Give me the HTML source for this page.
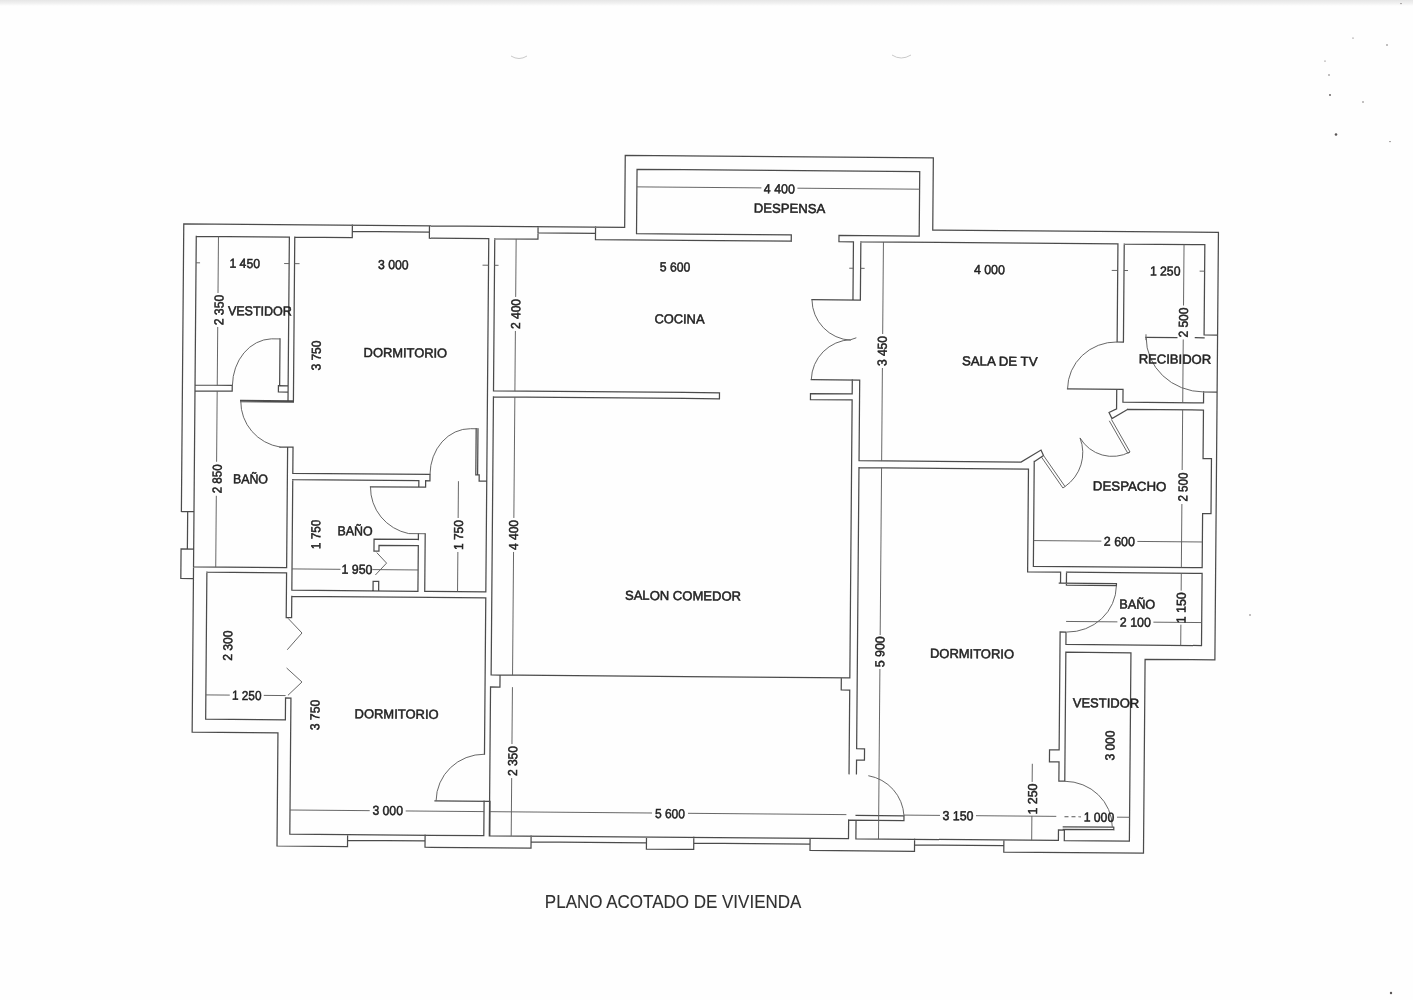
<!DOCTYPE html>
<html lang="es"><head><meta charset="utf-8"><title>Plano acotado de vivienda</title>
<style>
html,body{margin:0;padding:0;background:#fefefe;}
body{width:1413px;height:1000px;overflow:hidden;position:relative;}
svg{position:absolute;left:0;top:0;display:block;}
text{font-family:"Liberation Sans",sans-serif;fill:#222;stroke:#222;stroke-width:0.5;text-anchor:middle;}
.w{fill:none;stroke:#4c4c4c;stroke-width:1.25;stroke-linecap:square;stroke-linejoin:miter;}
.t{fill:none;stroke:#606060;stroke-width:0.95;stroke-linecap:butt;}
.d{fill:none;stroke:#555;stroke-width:1;stroke-dasharray:4 3;}
</style></head><body>
<svg width="1413" height="1000" viewBox="0 0 1413 1000">
<rect x="0" y="0" width="1413" height="1000" fill="#fefefe"/>
<defs><linearGradient id="tg" x1="0" y1="0" x2="0" y2="1"><stop offset="0" stop-color="#e6e6e6"/><stop offset="0.5" stop-color="#f0f0f0"/><stop offset="1" stop-color="#fefefe"/></linearGradient></defs><rect x="0" y="0" width="1413" height="6" fill="url(#tg)"/>
<defs><filter id="sc" x="0" y="0" width="1413" height="1000" filterUnits="userSpaceOnUse"><feGaussianBlur stdDeviation="0.38"/></filter></defs>
<g filter="url(#sc)"><g transform="rotate(0.4756 700 500)">
<path class="w" d="M181.5,515.8L181.5,228.1L622.4,228.1L622.4,155.9L930.5,155.9L930.5,228.1L1216.2,228.1L1216.2,655.6L1146.4,655.6L1146.4,849.5L1006.7,849.5 M1006.7,837.5V849.5 M917.4,843.2H1006.7 M917.4,837.5V849.5 M812.9,849.5H917.4 M812.9,837.5V849.5 M696.6,843.2H812.9 M696.6,837.5V849.5 M649.3,849.5H696.6 M649.3,837.5V849.5 M533.9,843.2H649.3 M533.9,837.5V849.5 M427.9,849.5H533.9 M427.9,837.5V849.5 M350.4,843.2H427.9 M350.4,837.5V849.5 M350.4,849.5L279.9,849.5L279.9,736.4L194.1,736.4 M181.5,515.8H194.1 M187.8,515.8V553.3 M194.1,553.3L181.5,553.3L181.5,582.8L194.1,582.8 M194.1,240.5V736.4 M194.1,240.5H287.2 M292.6,240.5H350.1 M350.1,228.1V240.5 M350.1,234.3H427.2 M427.2,228.1V240.5 M427.2,240.5H486.6 M492.6,240.5H535.8 M535.8,228.1V240.5 M535.8,234.3H593.3 M593.3,228.1V240.5 M593.3,240.5H789.1 M789.1,234.2V240.5 M789.1,234.2L634.3,234.2L634.3,169.8L917.0,169.8L917.0,234.2L836.8,234.2L836.8,240.5L851.3,240.5 M858.7,240.5H1115.8 M1122.1,240.5H1202.7 M287.2,240.5V389.2 M292.6,240.5V404.3 M194.1,389.2L231.3,389.2L231.3,395.0L194.1,395.0 M287.2,389.2L277.5,389.2L277.5,395.5L287.2,395.5 M287.2,389.2V404.3 M278.7,342.4V389.2 M239.8,404.3H292.6 M239.8,405.4H292.6 M279.5,450.6H292.6 M287.2,450.6V571.1 M287.2,576.3V621.0 M292.6,450.6V476.7 M292.6,483.0V593.6 M292.6,599.7V621.0 M287.2,621.0H292.6 M194.1,571.1H287.2 M207.5,576.3H287.2 M207.5,576.3L207.5,723.3L287.2,723.3L287.2,701.4L292.6,701.4L292.6,837.5 M486.6,240.5V593.6 M486.6,599.7V756.0 M486.6,803.0V837.5 M492.6,240.5V392.6 M492.6,398.6V676.7 M492.6,676.7L501.5,676.7L501.5,688.7L492.1,688.7L492.1,837.5 M292.6,476.7H429.8 M292.6,483.0H418.7 M475.6,430.6V476.8 M477.4,430.6V476.8 M475.6,476.8L479.0,476.8L479.0,483.0L486.6,483.0 M418.7,483.0L418.7,489.5 M429.8,476.7L429.8,483.0L425.5,483.0L425.5,489.5 M370.4,489.5H425.5 M418.7,536.2V542.0 M418.7,548.0V593.6 M425.5,536.2V593.6 M418.7,541.8L374.4,541.8L374.4,553.9L379.4,553.9L379.4,548.0L418.7,548.0 M373.8,593.6L373.8,584.0L379.4,584.0L379.4,593.6 M292.6,593.6H418.7 M425.5,593.6H486.6 M292.6,599.7H486.6 M437.5,803.0H492.6 M292.6,837.5H486.6 M492.6,803.0V837.5 M492.1,837.5H851.3 M492.6,392.6L718.6,392.6L718.6,398.6L492.6,398.6 M851.3,392.6L809.6,392.6L809.6,398.6L851.3,398.6 M851.3,240.5V298.7 M858.7,240.5V298.7 M810.3,298.7H858.7 M810.3,378.7H858.7 M851.3,378.7V392.6 M851.3,398.6V676.7 M858.7,378.7V459.4 M858.7,466.3V747.4 M858.7,758.7V772.5 M492.6,676.7H851.3 M842.8,676.7L842.8,688.8L851.3,688.8L851.3,772.5 M858.7,747.4L866.6,747.4L866.6,758.7L858.7,758.7 M851.3,819.0V837.5 M858.7,819.0V837.5 M858.7,814.1H906.6 M851.3,818.8H906.6 M906.6,814.1V818.8 M858.7,837.5H1061.2 M858.7,459.4L1020.7,459.4L1040.6,447.2L1043.1,452.6L1034.2,458.7 M1033.9,458.6V563.5 M858.7,466.3L1028.2,466.3L1028.2,569.2L1061.2,569.2 M1115.7,405.5L1108.3,409.1L1111.3,415.1L1126.7,406.0 M1115.8,240.5V338.5 M1122.1,240.5V338.5 M1115.8,338.5H1122.1 M1066.6,385.9H1122.1 M1115.8,385.9V405.5 M1122.1,385.9V398.7 M1122.1,398.7H1202.7 M1202.7,387.8V398.7 M1202.7,387.8H1216.2 M1202.7,240.5V330.8 M1202.7,330.8H1216.2 M1144.6,333.6H1175.5 M1194.0,333.6H1202.7 M1126.8,405.9H1202.7 M1202.7,405.9V454.5 M1202.7,454.5L1211.1,454.5L1211.1,509.5L1202.7,509.5 M1202.7,509.5V563.5 M1033.9,563.5H1202.7 M1067.1,569.2H1202.7 M1202.7,569.2V641.4 M1067.1,641.4H1202.7 M1061.2,569.2V580.1 M1067.1,569.2V582.2 M1060.0,580.1H1117.1 M1067.1,582.2H1117.1 M1117.1,580.1V582.2 M1067.1,641.4L1067.1,629.0L1061.2,629.0L1061.2,747.0L1051.6,747.0L1051.6,759.0L1061.2,759.0L1061.2,778.2L1067.1,778.2 M1067.1,778.2L1067.1,649.2L1132.2,649.2L1132.2,837.5L1067.1,837.5 M1061.2,837.5L1061.2,827.0L1067.1,827.0L1067.1,837.5 M1066.0,823.8H1116.5 M1066.0,826.3H1116.5 M1116.5,823.8V826.3"/>
<path class="t" d="M278.7,342.4H270 A 40 47 0 0 0 231.5,389.2 M240.0,405.0 A 47 46 0 0 0 280.0,450.6 M289.0,621.7L303.1,636.3L288.5,653.2 M288.0,671.4L303.5,685.3L289.6,698.7 M475.6,430.6 H470 A 40 46 0 0 0 429.8,476.7 M370.4,489.5 A 48 47 0 0 0 409.0,536.0 H425.5 M377.2,555.3L387.1,565.7L376.0,577.7 M438.6,803.0 A 48 47 0 0 1 486.6,756.0 M810.3,298.7 A 41 41 0 0 0 849.5,339.0 M810.3,378.7 A 41 41 0 0 1 849.5,338.4 L855,336.5 M906.6,814.1 A 43 43 0 0 0 870.6,774.3 M1043.1,452.6L1064.9,483.5L1062.8,485.0L1041.0,454.1 M1110.8,416.1L1129.6,448.4L1127.4,449.7L1108.6,417.4 M1064.9,483.5 A 41 41 0 0 0 1079.5,434.8 M1129.6,448.4 A 37.5 37.5 0 0 1 1079.5,434.8 M1115.8,338.5 A 49 47.4 0 0 0 1066.6,385.9 M1144.6,330.6V336.4 M1144.8,333.6 A 58 54.2 0 0 0 1202.7,387.8 M1117.1,582.2 A 49 47 0 0 1 1068.0,629.0 M1067.1,778.2 A 48 46 0 0 1 1115.0,823.5 M216.3,240.5V297.0 M216.3,331.0V389.2 M216.3,395.0V465.8 M216.3,499.8V571.1 M514.0,240.5V298.5 M514.0,332.5V392.6 M514.0,398.6V519.5 M514.0,553.5V676.7 M514.0,688.7V745.6 M514.0,779.6V837.5 M458.3,483.2V520.0 M458.3,554.0V593.6 M881.3,240.5V332.5 M881.3,366.5V459.4 M881.3,466.3V633.5 M881.3,667.5V837.5 M1181.9,240.5V301.5 M1181.9,335.5V398.7 M1181.9,405.9V466.0 M1181.9,500.0V563.5 M1181.9,569.2V586.7 M1181.9,620.7V641.4 M1034.5,761.0V779.2 M1034.5,813.2V837.5 M634.3,187.4H758.8 M794.8,187.4H917.0 M292.6,572.3H341.0 M373.0,572.3H418.7 M207.5,699.0H231.4 M265.4,699.0H287.2 M292.6,813.4H372.3 M408.3,813.4H486.6 M492.6,813.4H654.6 M690.6,813.4H849.0 M906.6,813.4H942.6 M978.6,813.4H1058.9 M1082.0,813.7H1083.6 M1119.6,813.7H1132.2 M1033.9,537.8H1101.7 M1137.7,537.8H1202.7 M1067.1,618.4H1118.4 M1154.4,618.4H1202.7 M194.1,267.0H198.1 M282.2,267.0H287.2 M292.6,267.0H297.6 M480.6,267.0H486.6 M492.6,267.0H496.6 M847.3,267.0H851.3 M858.7,267.0H862.7 M1109.8,267.0H1115.8 M1122.1,267.0H1126.1 M1197.7,267.0H1202.7"/>
<path class="d" d="M1067.1,813.7H1082"/>
<g opacity="0.999">
<text x="242.8" y="271.7" textLength="30.5" lengthAdjust="spacingAndGlyphs" font-size="13">1 450</text>
<text x="391.4" y="271.7" textLength="30.5" lengthAdjust="spacingAndGlyphs" font-size="13">3 000</text>
<text x="673.1" y="271.7" textLength="30.5" lengthAdjust="spacingAndGlyphs" font-size="13">5 600</text>
<text x="987.5" y="271.7" textLength="31.0" lengthAdjust="spacingAndGlyphs" font-size="13">4 000</text>
<text x="1163.3" y="271.7" textLength="30.5" lengthAdjust="spacingAndGlyphs" font-size="13">1 250</text>
<text x="776.8" y="192.7" textLength="31.0" lengthAdjust="spacingAndGlyphs" font-size="13">4 400</text>
<text x="787.2" y="212.1" textLength="71.5" lengthAdjust="spacingAndGlyphs" font-size="13">DESPENSA</text>
<text x="258.4" y="319.1" textLength="64.0" lengthAdjust="spacingAndGlyphs" font-size="13">VESTIDOR</text>
<text x="404.2" y="359.7" textLength="83.5" lengthAdjust="spacingAndGlyphs" font-size="13">DORMITORIO</text>
<text x="678.0" y="323.6" textLength="50.0" lengthAdjust="spacingAndGlyphs" font-size="13">COCINA</text>
<text x="998.6" y="363.2" textLength="75.5" lengthAdjust="spacingAndGlyphs" font-size="13">SALA DE TV</text>
<text x="1173.8" y="359.7" textLength="72.5" lengthAdjust="spacingAndGlyphs" font-size="13">RECIBIDOR</text>
<text x="1129.5" y="487.1" textLength="73.5" lengthAdjust="spacingAndGlyphs" font-size="13">DESPACHO</text>
<text x="250.3" y="487.2" textLength="35.0" lengthAdjust="spacingAndGlyphs" font-size="13">BAÑO</text>
<text x="355.3" y="538.3" textLength="35.0" lengthAdjust="spacingAndGlyphs" font-size="13">BAÑO</text>
<text x="1138.1" y="605.1" textLength="36.0" lengthAdjust="spacingAndGlyphs" font-size="13">BAÑO</text>
<text x="683.8" y="600.3" textLength="116.0" lengthAdjust="spacingAndGlyphs" font-size="13">SALON COMEDOR</text>
<text x="398.4" y="721.0" textLength="84.0" lengthAdjust="spacingAndGlyphs" font-size="13">DORMITORIO</text>
<text x="973.3" y="655.9" textLength="84.0" lengthAdjust="spacingAndGlyphs" font-size="13">DORMITORIO</text>
<text x="1107.7" y="704.1" textLength="66.5" lengthAdjust="spacingAndGlyphs" font-size="13">VESTIDOR</text>
<text x="357.6" y="576.7" textLength="31.0" lengthAdjust="spacingAndGlyphs" font-size="13">1 950</text>
<text x="248.4" y="703.7" textLength="29.5" lengthAdjust="spacingAndGlyphs" font-size="13">1 250</text>
<text x="390.3" y="817.5" textLength="30.5" lengthAdjust="spacingAndGlyphs" font-size="13">3 000</text>
<text x="672.6" y="818.4" textLength="30.0" lengthAdjust="spacingAndGlyphs" font-size="13">5 600</text>
<text x="960.6" y="818.1" textLength="31.0" lengthAdjust="spacingAndGlyphs" font-size="13">3 150</text>
<text x="1101.6" y="818.4" textLength="30.5" lengthAdjust="spacingAndGlyphs" font-size="13">1 000</text>
<text x="1119.7" y="542.5" textLength="31.0" lengthAdjust="spacingAndGlyphs" font-size="13">2 600</text>
<text x="1136.4" y="623.1" textLength="31.0" lengthAdjust="spacingAndGlyphs" font-size="13">2 100</text>
<text transform="translate(217.2,314.0) rotate(-90)" x="0" y="4.7" textLength="30.5" lengthAdjust="spacingAndGlyphs" font-size="13">2 350</text>
<text transform="translate(314.8,358.7) rotate(-90)" x="0" y="4.7" textLength="30.0" lengthAdjust="spacingAndGlyphs" font-size="13">3 750</text>
<text transform="translate(514.0,315.5) rotate(-90)" x="0" y="4.7" textLength="30.0" lengthAdjust="spacingAndGlyphs" font-size="13">2 400</text>
<text transform="translate(216.7,482.8) rotate(-90)" x="0" y="4.7" textLength="29.0" lengthAdjust="spacingAndGlyphs" font-size="13">2 850</text>
<text transform="translate(315.9,537.6) rotate(-90)" x="0" y="4.7" textLength="29.5" lengthAdjust="spacingAndGlyphs" font-size="13">1 750</text>
<text transform="translate(458.6,537.0) rotate(-90)" x="0" y="4.7" textLength="30.0" lengthAdjust="spacingAndGlyphs" font-size="13">1 750</text>
<text transform="translate(513.6,536.5) rotate(-90)" x="0" y="4.7" textLength="30.0" lengthAdjust="spacingAndGlyphs" font-size="13">4 400</text>
<text transform="translate(228.7,649.5) rotate(-90)" x="0" y="4.7" textLength="30.5" lengthAdjust="spacingAndGlyphs" font-size="13">2 300</text>
<text transform="translate(316.5,718.2) rotate(-90)" x="0" y="4.7" textLength="30.5" lengthAdjust="spacingAndGlyphs" font-size="13">3 750</text>
<text transform="translate(514.6,762.6) rotate(-90)" x="0" y="4.7" textLength="30.0" lengthAdjust="spacingAndGlyphs" font-size="13">2 350</text>
<text transform="translate(880.8,349.5) rotate(-90)" x="0" y="4.7" textLength="30.0" lengthAdjust="spacingAndGlyphs" font-size="13">3 450</text>
<text transform="translate(880.9,650.3) rotate(-90)" x="0" y="4.7" textLength="31.0" lengthAdjust="spacingAndGlyphs" font-size="13">5 900</text>
<text transform="translate(1181.7,318.5) rotate(-90)" x="0" y="4.7" textLength="30.0" lengthAdjust="spacingAndGlyphs" font-size="13">2 500</text>
<text transform="translate(1182.6,483.0) rotate(-90)" x="0" y="4.7" textLength="29.0" lengthAdjust="spacingAndGlyphs" font-size="13">2 500</text>
<text transform="translate(1181.8,603.7) rotate(-90)" x="0" y="4.7" textLength="31.0" lengthAdjust="spacingAndGlyphs" font-size="13">1 150</text>
<text transform="translate(1034.8,796.2) rotate(-90)" x="0" y="4.7" textLength="31.0" lengthAdjust="spacingAndGlyphs" font-size="13">1 250</text>
<text transform="translate(1111.8,742.1) rotate(-90)" x="0" y="4.7" textLength="30.0" lengthAdjust="spacingAndGlyphs" font-size="13">3 000</text>
</g>
</g>
<text x="673.1" y="908.3" font-size="18.6" style="stroke-width:0.1;fill:#303030" textLength="256.5" lengthAdjust="spacingAndGlyphs">PLANO ACOTADO DE VIVIENDA</text>
</g>
<g fill="#5a5555"><circle cx="1353" cy="38" r="0.6"/><circle cx="1387" cy="45" r="0.7"/><circle cx="1325" cy="61" r="0.6"/><circle cx="1329" cy="75" r="0.7"/><circle cx="1330" cy="95" r="0.9"/><circle cx="1363" cy="102" r="0.7"/><circle cx="1336" cy="134.5" r="1.3"/><circle cx="1390" cy="141.6" r="0.7"/><circle cx="1401" cy="3.6" r="0.6"/><circle cx="1250" cy="615" r="0.7"/><circle cx="1391" cy="993" r="1.2"/></g>
<path d="M511,56 Q519,61 527,56 M892,55 Q901,61 911,55" fill="none" stroke="#c9c9c9" stroke-width="1"/>
</svg>
</body></html>
